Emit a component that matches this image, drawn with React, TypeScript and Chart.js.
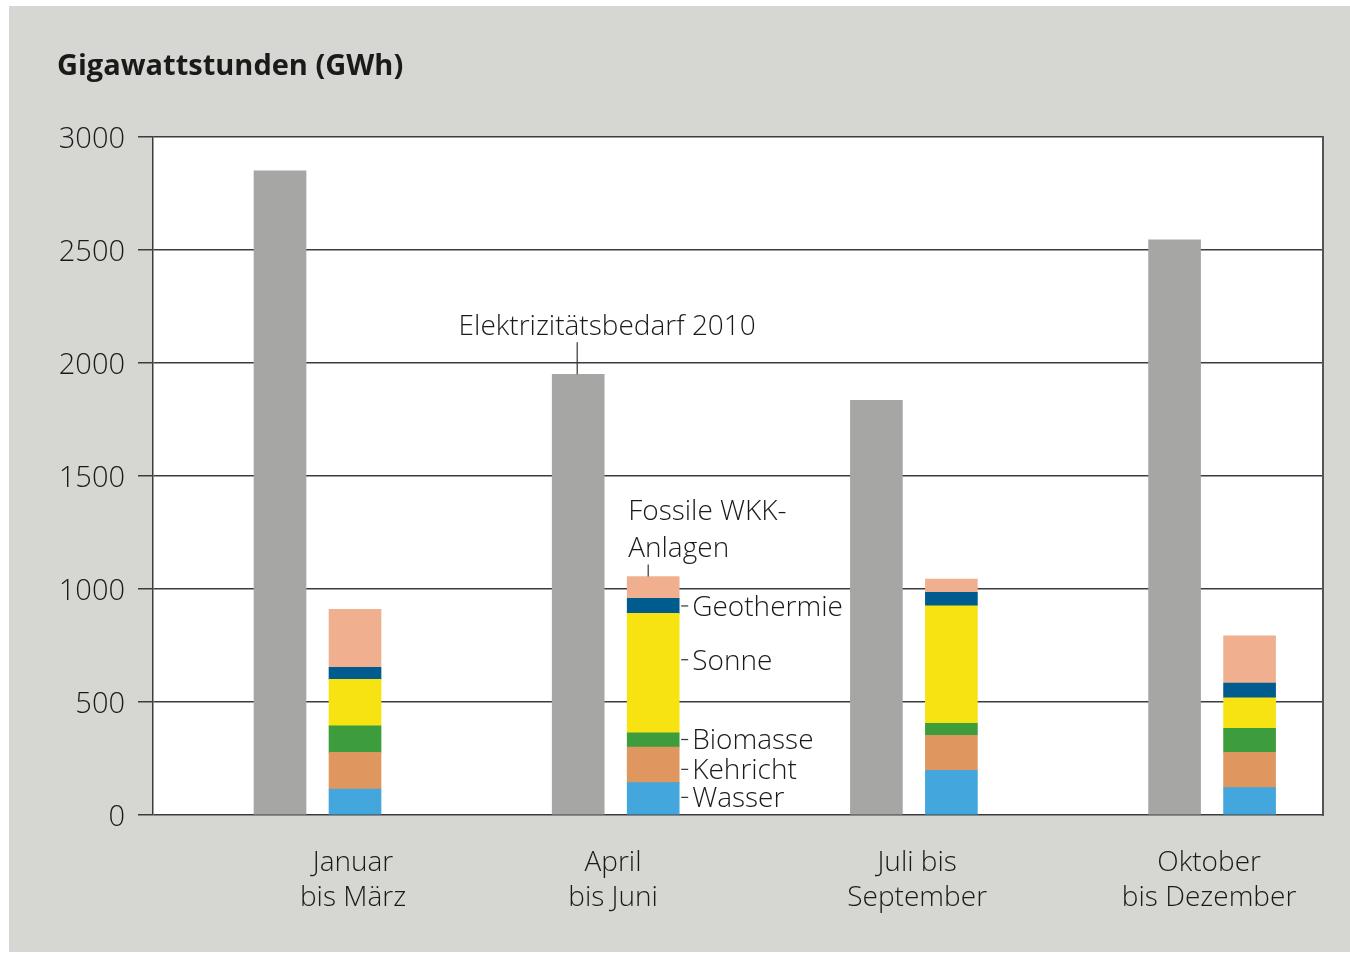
import React, { useEffect, useRef } from "react";
import { Chart, registerables } from "chart.js";

Chart.register(...registerables);

const quarterLabels: string[][] = [
  ["Januar", "bis März"],
  ["April", "bis Juni"],
  ["Juli bis", "September"],
  ["Oktober", "bis Dezember"],
];
const yTicks = [0, 500, 1000, 1500, 2000, 2500, 3000];

const bedarf2010 = [2850, 1950, 1835, 2545];
const wasser = [115, 143, 198, 121];
const kehricht = [162, 157, 155, 156];
const biomasse = [118, 64, 53, 107];
const sonne = [205, 528, 520, 135];
const geothermie = [53, 67, 59, 65];
const fossileWKK = [257, 96, 59, 209];

const FONT = "'Open Sans', 'DejaVu Sans', sans-serif";
const TEXT = "#1a1a1a";

const toXY = (arr: number[]) => arr.map((v, i) => ({ x: i, y: v }));

export default function App() {
  const ref = useRef<HTMLCanvasElement | null>(null);

  useEffect(() => {
    if (!ref.current) return;

    const bgPlugin = {
      id: "bg",
      beforeDraw(chart: any) {
        const { ctx, chartArea } = chart;
        ctx.save();
        ctx.fillStyle = "#ffffff";
        ctx.fillRect(0, 0, chart.width, chart.height);
        ctx.fillStyle = "#d6d6d2";
        ctx.fillRect(9, 6, 1341, 946);
        ctx.fillStyle = "#ffffff";
        ctx.fillRect(chartArea.left, chartArea.top, chartArea.right - chartArea.left, chartArea.bottom - chartArea.top);
        ctx.fillStyle = TEXT;
        ctx.font = `bold 29px ${FONT}`;
        ctx.textAlign = "left";
        ctx.textBaseline = "middle";
        ctx.fillText("Gigawattstunden (GWh)", 57, 67);
        ctx.restore();
      },
      afterDraw(chart: any) {
        const { ctx, chartArea } = chart;
        ctx.save();
        ctx.strokeStyle = "#555555";
        ctx.lineWidth = 2;
        ctx.beginPath();
        ctx.moveTo(chartArea.right, chartArea.top - 1);
        ctx.lineTo(chartArea.right, chartArea.bottom + 1);
        ctx.stroke();
        ctx.restore();
      },
    };

    const annotPlugin = {
      id: "annot",
      afterDatasetsDraw(chart: any) {
        const { ctx } = chart;
        const yScale = chart.scales.y;
        const gray = chart.getDatasetMeta(0).data[1];
        const top = chart.getDatasetMeta(6).data[1];
        ctx.save();
        ctx.fillStyle = TEXT;
        ctx.strokeStyle = "#333333";
        ctx.lineWidth = 1.2;
        ctx.font = `300 28px ${FONT}`;
        ctx.textBaseline = "middle";

        // Elektrizitätsbedarf 2010
        ctx.beginPath();
        ctx.moveTo(gray.x - 1, gray.y - 32);
        ctx.lineTo(gray.x - 1, gray.y);
        ctx.stroke();
        ctx.textAlign = "center";
        ctx.fillText("Elektrizitätsbedarf 2010", gray.x + 29, gray.y - 47);

        // Fossile WKK-Anlagen
        const left = top.x - top.width / 2;
        ctx.beginPath();
        ctx.moveTo(left + 21, top.y - 12);
        ctx.lineTo(left + 21, top.y);
        ctx.stroke();
        ctx.textAlign = "left";
        ctx.fillText("Fossile WKK-", left + 1, top.y - 65);
        ctx.fillText("Anlagen", left + 1, top.y - 28);

        // segment labels
        const right = top.x + top.width / 2;
        const segs: [string, number][] = [
          ["Geothermie", 925],
          ["Sonne", 687],
          ["Biomasse", 334],
          ["Kehricht", 202],
          ["Wasser", 78],
        ];
        segs.forEach(([name, v]) => {
          const y = yScale.getPixelForValue(v);
          ctx.beginPath();
          ctx.moveTo(right + 2, y);
          ctx.lineTo(right + 9, y);
          ctx.stroke();
          ctx.fillText(name, right + 13, y + 2);
        });
        ctx.restore();
      },
    };

    const supply = (label: string, data: number[], color: string) => ({
      label,
      data: toXY(data),
      backgroundColor: color,
      stack: "supply",
      borderWidth: 0,
    });

    const chart = new Chart(ref.current, {
      type: "bar",
      data: {
        datasets: [
          { label: "Elektrizitätsbedarf 2010", data: toXY(bedarf2010), backgroundColor: "#a6a7a5", stack: "demand", borderWidth: 0 },
          supply("Wasser", wasser, "#43a6dd"),
          supply("Kehricht", kehricht, "#e0965f"),
          supply("Biomasse", biomasse, "#3d9d3c"),
          supply("Sonne", sonne, "#f8e312"),
          supply("Geothermie", geothermie, "#005b8e"),
          supply("Fossile WKK-Anlagen", fossileWKK, "#f0b08f"),
        ] as any,
      },
      options: {
        responsive: false,
        animation: false,
        layout: { padding: { top: 137, right: 27, left: 0, bottom: 0 } },
        barThickness: 75,
        maxBarThickness: 52,
        plugins: {
          legend: { display: false },
          tooltip: { enabled: false },
          title: { display: false },
        },
        scales: {
          x: {
            type: "linear",
            stacked: true,
            offset: false,
            min: -0.5517,
            max: 3.372,
            grid: { display: false, offset: false },
            border: { display: false },
            afterBuildTicks: (scale: any) => {
              scale.ticks = [0.119, 0.991, 2.011, 2.99].map((v) => ({ value: v }));
            },
            afterFit: (scale: any) => {
              scale.height = 141;
            },
            ticks: {
              autoSkip: false,
              maxRotation: 0,
              padding: 23,
              color: TEXT,
              font: { family: FONT, size: 28, lineHeight: 1.25, weight: "300" },
              callback: (_v: any, i: number) => quarterLabels[i],
            },
          },
          y: {
            stacked: true,
            min: 0,
            max: 3000,
            afterBuildTicks: (scale: any) => {
              scale.ticks = yTicks.map((v) => ({ value: v }));
            },
            afterFit: (scale: any) => {
              scale.width = 153;
            },
            grid: { color: "#3c3c3c", lineWidth: 1.5, tickLength: 15 },
            border: { display: true, color: "#3c3c3c", width: 1.5 },
            ticks: {
              padding: 13,
              labelOffset: 3,
              color: TEXT,
              font: { family: FONT, size: 29, weight: "300" },
              callback: (v: any) => String(v),
            },
          },
        },
      } as any,
      plugins: [bgPlugin, annotPlugin],
    });

    return () => chart.destroy();
  }, []);

  return (
    <div style={{ position: "absolute", left: 0, top: 0, width: 1350, height: 956 }}>
      <canvas ref={ref} width={1350} height={956} style={{ width: 1350, height: 956, display: "block" }} />
    </div>
  );
}
